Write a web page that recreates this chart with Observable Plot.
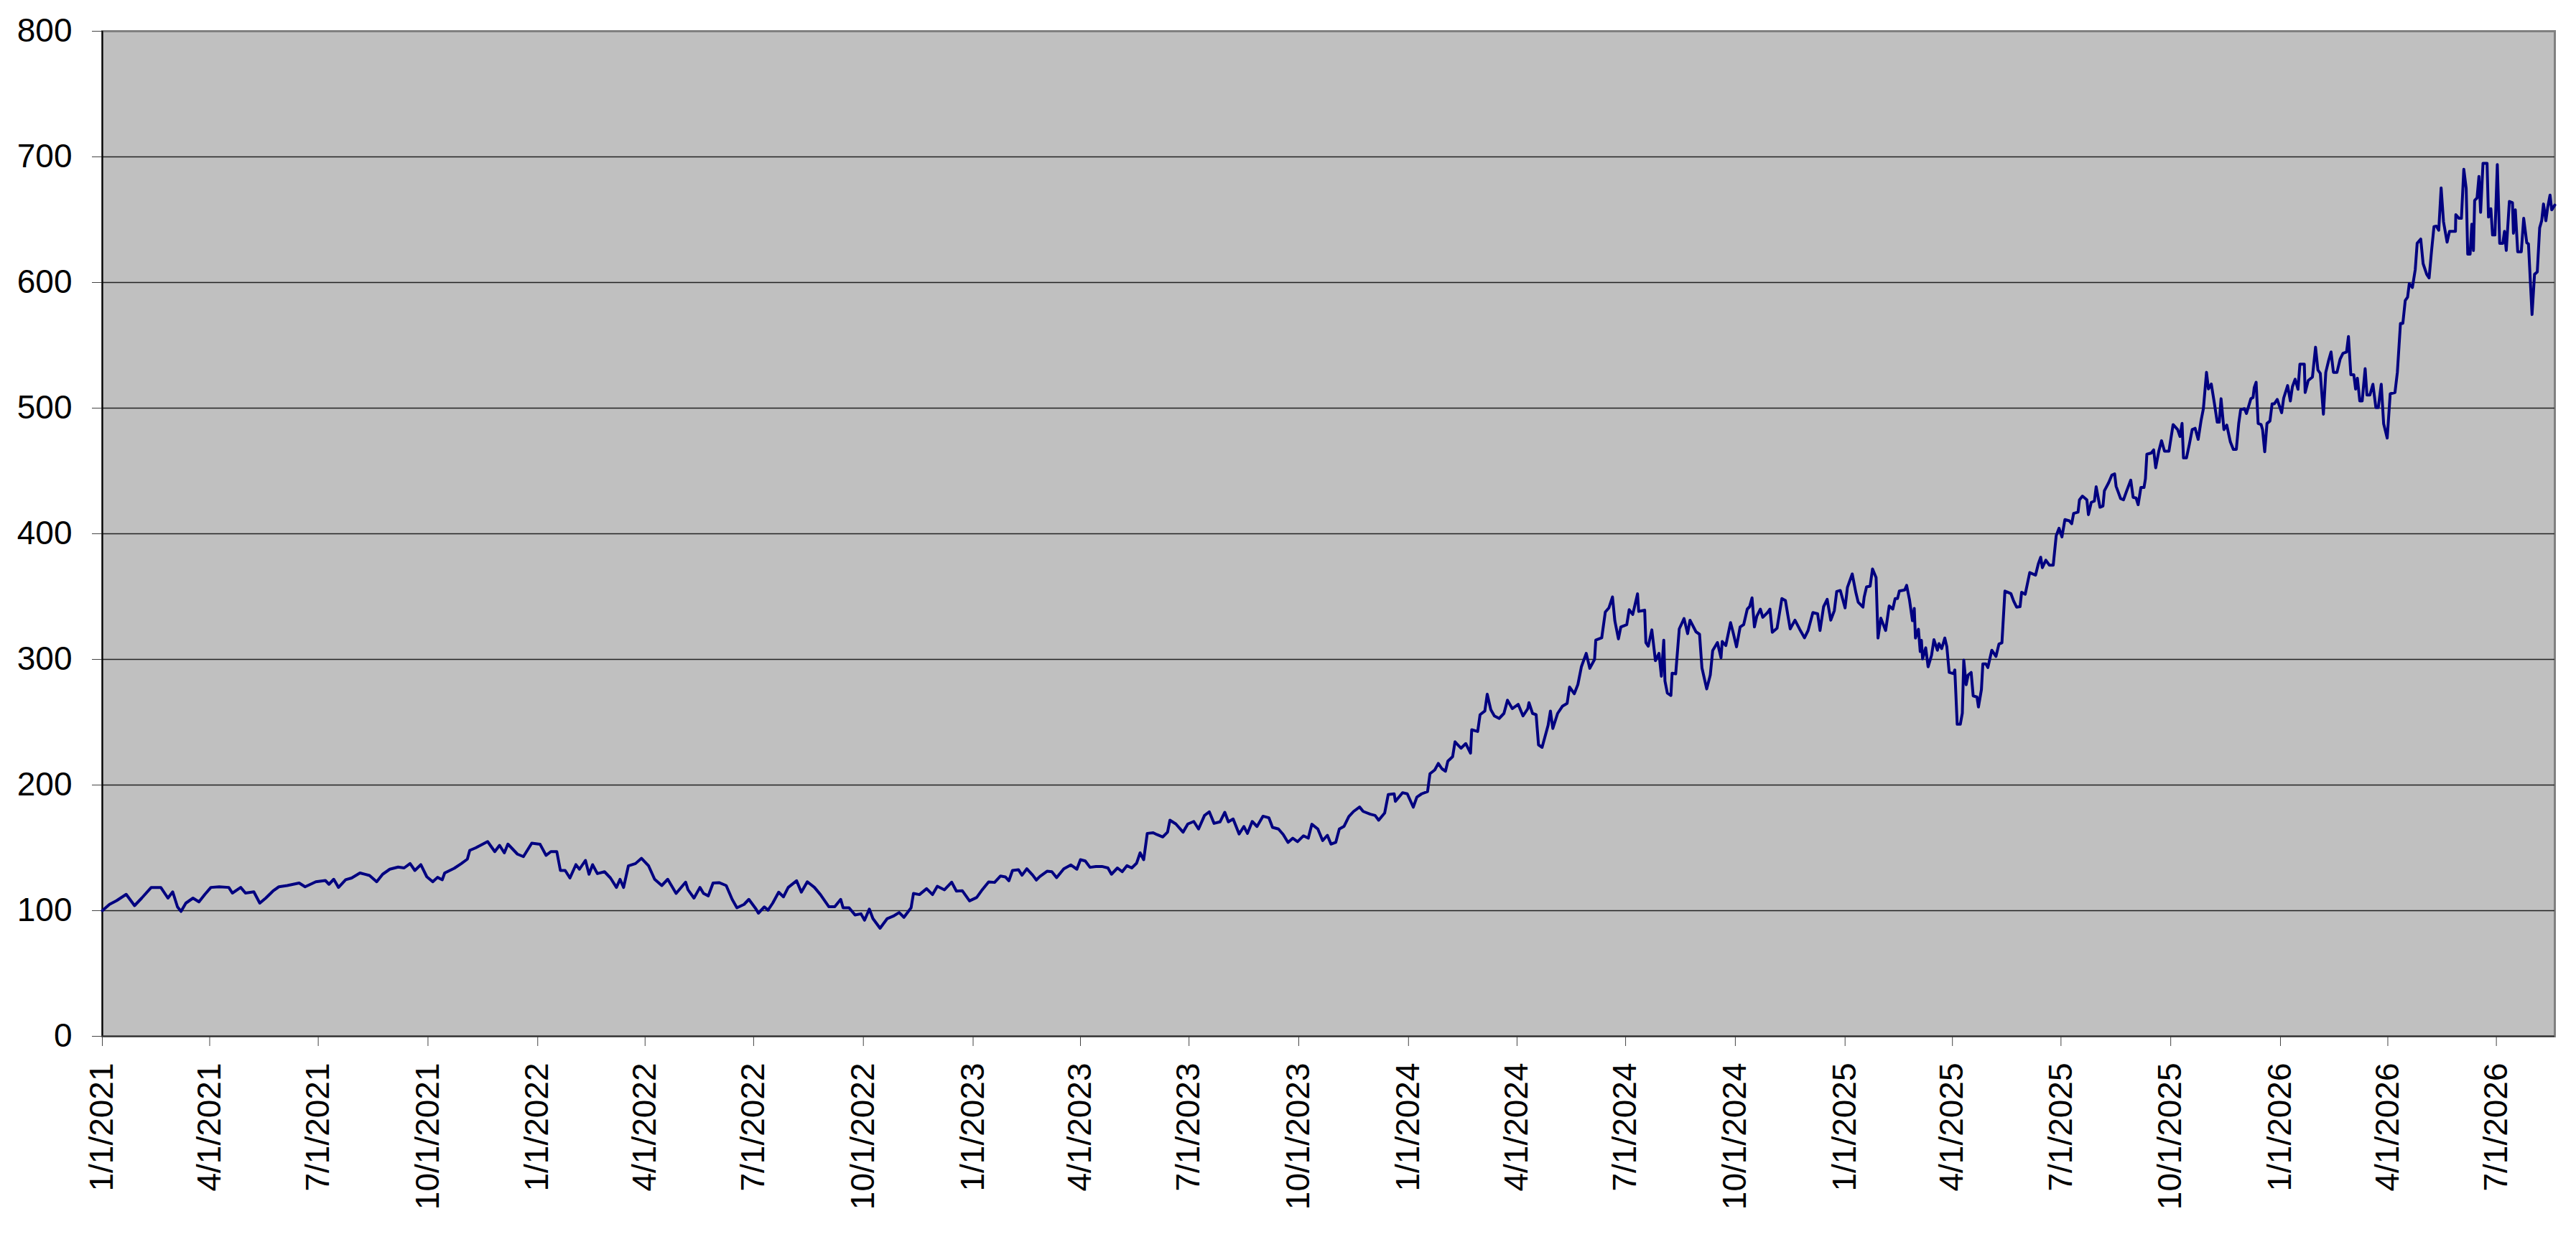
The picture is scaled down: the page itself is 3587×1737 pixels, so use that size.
<!DOCTYPE html>
<html><head><meta charset="utf-8">
<script src="https://cdn.jsdelivr.net/npm/d3@7"></script>
<script src="https://cdn.jsdelivr.net/npm/@observablehq/plot@0.6"></script>
<style>html,body{margin:0;padding:0;background:#fff;overflow:hidden}</style>
</head><body><div id="chart"></div>
<script>
const startDate = "2021-01-01";
const endDay = 2056;
// day offsets from startDate
const dayOffsets = [
0,6,12,20,27,33,41,49,55,59,63,66,70,76,81,86,91,98,106,109,116,120,127,132,137,143,148,155,165,170,179,187,190,194,198,204,209,216,224,230,235,241,248,253,258,262,267,272,277,281,285,287,295,301,306,308,313,323,329,333,337,340,348,353,360,
367,372,376,381,384,388,392,397,400,405,408,411,415,421,426,431,434,437,441,447,452,458,463,469,474,481,489,491,496,501,504,508,512,517,523,528,532,538,542,548,550,555,558,562,567,571,575,582,586,591,597,602,609,614,619,621,626,631,636,639,643,646,652,658,663,668,672,678,680,685,691,696,700,706,712,716,
721,727,733,737,743,748,753,757,760,763,768,771,775,780,783,786,792,796,800,806,812,817,820,824,828,833,838,843,846,851,855,859,863,867,870,873,876,881,884,889,893,895,900,906,910,915,919,924,928,932,937,941,944,948,953,957,960,964,968,973,978,981,986,990,994,998,1002,1007,1011,1014,1019,1023,1027,1030,1034,1037,1041,1045,1049,1054,1057,1063,1067,1070,1075,1078,1083,1084,1090,
1094,1099,1102,1106,1111,1113,1117,1120,1123,1126,1128,1132,1134,1139,1143,1147,1148,1153,1155,1159,1161,1164,1167,1171,1175,1178,1182,1187,1191,1195,1196,1199,1202,1204,1207,1212,1214,1216,1220,1224,1228,1230,1234,1237,1240,1244,1247,1251,1252,1257,1260,1263,1266,1268,1271,1273,1278,1280,1283,1287,1288,1293,1294,1296,1299,1302,1305,1307,1309,1310,1312,1315,1316,1319,1322,1326,1329,1331,1336,1339,1341,1345,1348,1350,1354,1357,1358,1361,1365,1367,1370,1373,1376,1379,1381,1383,1385,1387,1390,1392,1396,1398,1400,1404,1408,1411,1413,1415,1419,1423,1427,1430,1434,1438,1440,1443,1446,1449,1452,1454,1457,1461,1463,
1467,1470,1472,1476,1477,1479,1482,1484,1487,1488.6,1491,1495,1498,1501,1503,1505,1506.5,1511,1512.6,1515,1517.5,1519,1520,1522.5,1524,1525,1526,1528.6,1530.6,1533.5,1535.5,1538.4,1539.7,1542,1544.6,1546.3,1548.3,1552,1553,1555,1557.6,1559.3,1560.5,1562.5,1564.2,1566.7,1568.4,1571.6,1572.8,1575.3,1576.5,1579,1580.7,1584,1587.5,1590,1592.5,1595,1600,1602.3,1604.8,1607.7,1609,1612,1615.8,1620.7,1623,1625,1626.4,1629.3,1632.3,1635.5,1638,1640.4,1642.8,1645.3,1649,1651,1652.6,1656.3,1657.5,1660,1663.7,1665,1667.4,1670,1671.5,1674.7,1677.2,1678.4,1682,1684.6,1687,1688.2,1692,1694.4,1697,1700.5,1702.5,1705,1706.7,1709,1711.6,1712.8,1714,1717.7,1719.7,1721.4,1724,1726.3,1728.8,1732.5,1736,1739.8,1741.8,1743.5,1744.7,1747.2,1749.6,1752,1754.5,1757,1759.5,1761.4,1764,1765.6,1768,1770.5,1773,1774.7,1776.2,1778.6,1781,1784,1786.5,1789,1791,1792.6,1795.8,1797.5,1801.2,1803,1804,1805.6,1807.3,1809.8,1811,1812.8,1814.7,1817.2,1819,1820.9,1823.3,1827,1828.7,1832,
1834.3,1836,1838.3,1840.7,1842.3,1846,1846.7,1849.3,1852.8,1855.4,1857.4,1859.4,1862,1864,1866.4,1868.4,1870.4,1873.4,1876,1878.4,1881.4,1883,1885,1887.5,1889,1890.5,1892.5,1894.5,1897,1898.5,1901,1903.5,1906,1908,1910.5,1912.5,1915.5,1918,1922,1924,1926.6,1928.6,1930.6,1932.6,1934,1936.6,1939,1940.6,1943.6,1945.6,1948.6,1950.6,1952.7,1954.7,1956.7,1958.7,1960.7,1962.7,1965.7,1967.7,1972.7,1973,1975.7,1977.7,1979.7,1981.7,1983,1985,1986.4,1987.8,1988.8,1990.8,1992.4,1993.8,1995.8,1999.2,2000.4,2002.4,2003.8,2005.8,2007.8,2009.8,2012.4,2013.8,2015.3,2017.9,2020.5,2021.3,2022.9,2024.9,2027.9,2029.9,2032.5,2033.9,2036.9,2039,2041.3,2043.3,2045,2046.5,2048.5,2050,2052,2053.4,2056
];
const values = [
100,105,108,113,104,110,118.5,118.5,110,115,103,99.4,106,110,107,113,118.5,119,118.5,114,118.5,114,115,106,110,115.6,119,120,122,119,123,124,121,125,118.5,124.6,126,130,128,123,129,133,134.7,134,137.5,132,136.6,127,123,126.5,124.6,130,133.7,137.5,141,148,150,155,147,152,146,153,145,143,153.7,
152.8,144,147,147,132,132,126,136.6,133,140,129,136.6,129.5,131,126,118.5,125,118.5,135.6,137.5,141.7,135.6,125,120,125,113.7,122.7,116.6,110,118.5,113.7,111.8,122,122.3,120,109,102.3,105,109,101.3,98,103,100.4,106,114.7,111,118.5,123.8,114.7,123,118.5,112.8,103.2,103.2,109,102.3,102.3,96.6,97.5,92.4,101.3,93.7,86,93.7,95.6,98.5,94.7,102.3,113.7,112.8,117.5,112.8,119.4,116.6,122.7,115.6,
115.8,107.8,110.5,115.8,122.9,122.5,127.6,126.9,123.8,132,132.6,128.2,133.3,128.2,124.4,127.2,131.4,131,126.3,133.3,136.4,133,140.6,139.6,134.5,135.2,135.2,134,129,134,131,135.8,134,137.7,146,140.6,161.5,162,160.6,158.7,162.5,172,169,162.5,169,171,165,175.8,178.7,169.5,170.7,178.3,170.7,173,161,167,161.5,171,167,175.2,173.9,166.3,165,160.6,154.3,157.7,154.9,159.6,157.7,168.8,165,155.8,160,153,154.3,165,167.2,174.9,179,182.5,179,176.8,175.8,172,177.7,192.4,193,187,193.9,
193,182.4,190.4,193,194.8,209,212,217.2,213,211,219,222.6,234.4,229.3,233,225.4,244,242.6,256,258.9,272.3,260,255,253,257,267.5,260.8,264.2,255,260.8,265.6,257,256,232,230,247.4,258.9,245,257,262.7,265,278,272.7,280,294.3,304.8,292.9,300,315.3,317.2,337.7,341,349.7,330.6,316.3,325.8,327.7,339.6,335.8,352.2,338.2,339.2,313.4,310.5,323.5,299,304.8,286.6,315.3,282.8,273.2,271.3,289,288.5,324.3,332.5,320.5,331.2,322,320,293.3,276.5,287.6,307,313.4,301.3,314.3,311,329.3,322,310,325.8,327.7,340,342,349,325.8,334.4,340,333.5,337.3,340,321.6,324.9,348.4,346.8,335.4,324.3,331.2,323.9,317.2,323,337.3,336.3,323,342,347.8,331.2,338.8,354.1,354.9,341,357.4,
368,353.4,345.5,341.6,349.5,357.7,358.3,372,365.2,317,332.8,323,342.6,340,348.5,348.5,354.4,355.3,358.9,347.5,330.8,340.6,317,324,306.3,315.1,300.4,309.2,294.1,303.3,315.7,307.3,312.6,308.6,317,310.2,289.6,288.6,291.6,248.4,248.4,257.2,299.4,279.8,287.6,289.6,271,270,262.1,275.9,296.5,296.5,293.5,307.3,302.4,312.2,313.2,354.4,352.4,346.5,341.6,342,353.4,351.8,369.1,367.1,376,381.3,373,378.9,375,375,398.5,404.4,397.5,411.3,410.3,408,416.2,417.2,427,430,427,415.2,425,426,437.4,421.1,422.1,434.2,440.7,446.6,447.6,437.8,428,427,433.9,442.7,429,428.4,423.1,436.8,436.8,443.7,463.3,464.3,466.8,452.5,465.7,474.1,465.7,465.7,486.9,482.9,477.4,487.8,460.4,460.4,471.1,482.9,483.9,475.1,490.4,499.6,528.5,515.3,519.2,504.5,488.8,488.8,507.5,482.9,486.5,473.1,467.2,467.2,487.8,498.6,499.6,495.7,507.5,508.4,516.3,520.6,487.8,486.9,482.9,465.3,487.8,489.8,503.5,503.5,506.9,496.3,508,517.9,
505.7,517,523,515,535,535,512.4,522,524.7,548.5,530.4,527.6,495.2,528.5,538,544.7,528.5,528.5,539,543.7,544.7,557,526.6,526.6,515.2,523.8,505.7,505.7,531.4,510.5,510.5,519,500.4,500.4,519,487.6,476.2,511.4,512.4,528.5,567.5,567.5,585.6,588.4,599.2,596,610.3,631.2,634.6,615,606.5,603.6,625.5,644.5,644.9,641.6,675.3,648.3,632.1,640.7,640.7,654,651.1,651.1,690.1,674.9,622.6,622.6,646.4,625.5,665.4,667.3,684.4,655.9,694.9,694.9,652.1,658.7,637.8,637.8,693.9,631.2,631.2,640.7,625.5,664.5,663.5,639.2,657.8,624.5,624.5,651.1,631.6,630.8,574.5,606.5,608.4,643.5,649.2,662.5,649.2,659.7,669.6,657.8,661.6
];
const xTickLabels = ["2021-01-01","2021-04-01","2021-07-01","2021-10-01","2022-01-01","2022-04-01","2022-07-01","2022-10-01","2023-01-01","2023-04-01","2023-07-01","2023-10-01","2024-01-01","2024-04-01","2024-07-01","2024-10-01","2025-01-01","2025-04-01","2025-07-01","2025-10-01","2026-01-01","2026-04-01","2026-07-01"];
const yTicks = [0,100,200,300,400,500,600,700,800];

const DAY = 864e5;
const t0 = Date.parse(startDate + "T00:00:00Z");
const data = dayOffsets.map((d, i) => ({date: new Date(t0 + d * DAY), value: values[i]}));
const xTicks = xTickLabels.map(s => new Date(s + "T00:00:00Z"));

const chart = Plot.plot({
  width: 3587, height: 1737,
  marginLeft: 142, marginRight: 30, marginTop: 43, marginBottom: 294,
  style: {fontFamily: "'Liberation Sans', Arial, sans-serif", fontSize: "46px", color: "#000", background: "#fff", overflow: "visible"},
  x: {type: "utc", domain: [new Date(t0), new Date(t0 + endDay * DAY)]},
  y: {domain: [0, 800]},
  marks: [
    Plot.frame({fill: "#c0c0c0", stroke: "#808080", strokeWidth: 3}),
    Plot.ruleY(yTicks.filter(v => v > 0 && v < 800), {stroke: "#222", strokeWidth: 1.5}),
    Plot.axisY({ticks: yTicks, tickSize: 14, tickPadding: 28, label: null, stroke: "#444", fontSize: 46}),
    Plot.axisX({ticks: xTicks, tickFormat: d3.utcFormat("%-m/%-d/%Y"), tickRotate: -90, tickSize: 14, tickPadding: 23, label: null, stroke: "#444", fontSize: 46}),
    Plot.ruleX([new Date(t0)], {stroke: "#000", strokeWidth: 2}),
    Plot.ruleY([0], {stroke: "#333", strokeWidth: 2}),
    Plot.line(data, {x: "date", y: "value", stroke: "#000080", strokeWidth: 4})
  ]
});
document.getElementById("chart").appendChild(chart);
</script>
</body></html>
